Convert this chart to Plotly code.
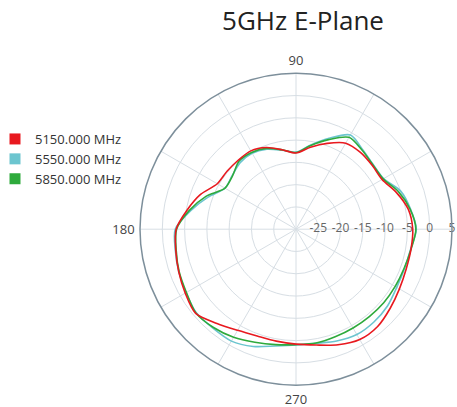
import plotly.graph_objects as go

theta = [0, 10, 20, 30, 40, 50, 60, 70, 80, 90, 100, 110, 120, 130, 140, 150, 160, 170,
         180, 190, 200, 210, 220, 230, 240, 250, 260, 270, 280, 290, 300, 310, 320, 330, 340, 350, 360]

r_5150 = [-3.8, -4.4, -6.0, -7.7, -7.7, -7.5, -7.7, -9.5, -11.3, -12.9, -11.9, -10.5, -9.7, -9.8,
          -9.8, -9.6, -7.2, -5.2, -3.1, -2.6, -2.0, -1.3, -0.6, -2.4, -3.8, -4.5, -4.5, -4.2,
          -3.6, -2.4, -1.4, -1.5, -2.4, -3.2, -3.7, -3.8, -3.8]
r_5550 = [-3.0, -3.9, -5.0, -7.3, -7.4, -6.7, -5.6, -8.3, -10.8, -12.7, -12.0, -10.9, -10.3, -10.5,
          -11.3, -11.6, -9.0, -6.0, -2.9, -2.5, -2.0, -1.5, -0.8, -1.0, -1.0, -2.0, -3.4, -4.0,
          -4.0, -3.3, -2.7, -2.8, -3.2, -3.9, -4.1, -3.9, -3.0]
r_5850 = [-3.1, -4.0, -5.5, -7.4, -7.5, -6.9, -6.2, -8.6, -10.9, -12.8, -11.9, -10.7, -10.1, -10.1,
          -11.4, -11.6, -8.5, -5.7, -3.2, -2.7, -2.1, -1.6, -0.7, -1.2, -2.0, -3.0, -3.7, -4.1,
          -4.05, -4.3, -4.4, -4.4, -4.3, -4.3, -4.2, -3.8, -3.1]

names = ["5150.000 MHz", "5550.000 MHz", "5850.000 MHz"]
colors = ["#e8191f", "#6cc5cf", "#2eaa3c"]
series = [r_5150, r_5550, r_5850]

angular_ticks = [0, 30, 60, 90, 120, 150, 180, 210, 240, 270, 300, 330]
angular_text = ["", "", "", "90", "", "", "180", "", "", "270", "", ""]
radial_ticks = [-25, -20, -15, -10, -5, 0, 5]
radial_text = [str(v) for v in radial_ticks]

W, H = 457, 407

fig = go.Figure()

# radial tick labels, centred on the 0-degree axis line
fig.add_trace(go.Scatterpolar(
    r=radial_ticks, theta=[0] * len(radial_ticks), mode="text", text=radial_text,
    textposition="middle center", cliponaxis=False,
    textfont=dict(family="Open Sans", size=12, color="#666"),
    showlegend=False, hoverinfo="skip"))

# lines (draw order: cyan, green, red on top)
for i in [1, 2, 0]:
    fig.add_trace(go.Scatterpolar(
        r=series[i], theta=theta, mode="lines", name=names[i],
        line=dict(color=colors[i], width=1.6, shape="spline", smoothing=0.8),
        showlegend=False, legendgroup=names[i], hoverinfo="skip"))

# legend entries with square swatches
for i in range(3):
    fig.add_trace(go.Scatterpolar(
        r=[None], theta=[None], mode="markers", name=names[i],
        marker=dict(symbol="square", size=11, color=colors[i]),
        showlegend=True, legendgroup=names[i]))

cx, cy, rad = 296, 229.2, 156

fig.update_layout(
    width=W, height=H,
    margin=dict(l=0, r=0, t=0, b=0, autoexpand=False),
    paper_bgcolor="white",
    font=dict(family="Open Sans", color="#444"),
    title=dict(text="5GHz E-Plane", x=303 / W, xanchor="center",
               y=1 - 21 / H, yanchor="middle", yref="container",
               font=dict(family="Open Sans", size=26, color="#222")),
    legend=dict(x=-5 / W, xanchor="left", y=1 - 124 / H, yanchor="top",
                tracegroupgap=0,
                font=dict(family="Open Sans", size=13, color="#333"),
                bgcolor="rgba(0,0,0,0)"),
    polar=dict(
        domain=dict(x=[(cx - rad) / W, (cx + rad) / W],
                    y=[1 - (cy + rad) / H, 1 - (cy - rad) / H]),
        bgcolor="white",
        angularaxis=dict(
            tickvals=angular_ticks, ticktext=angular_text, direction="counterclockwise",
            rotation=0, showline=True, linecolor="#7d8f9b", linewidth=1.5,
            gridcolor="#d7dee4", gridwidth=1, ticks="outside", ticklen=2,
            tickcolor="rgba(0,0,0,0)",
            tickfont=dict(family="Open Sans", size=13, color="#444")),
        radialaxis=dict(
            range=[-30, 5.01], tickvals=radial_ticks, angle=0, showline=False,
            showticklabels=False, gridcolor="#d7dee4", gridwidth=1, ticks=""),
    ),
)

fig.write_html("out.html", config={"displayModeBar": False},
               post_script="document.body.style.margin='0';")
